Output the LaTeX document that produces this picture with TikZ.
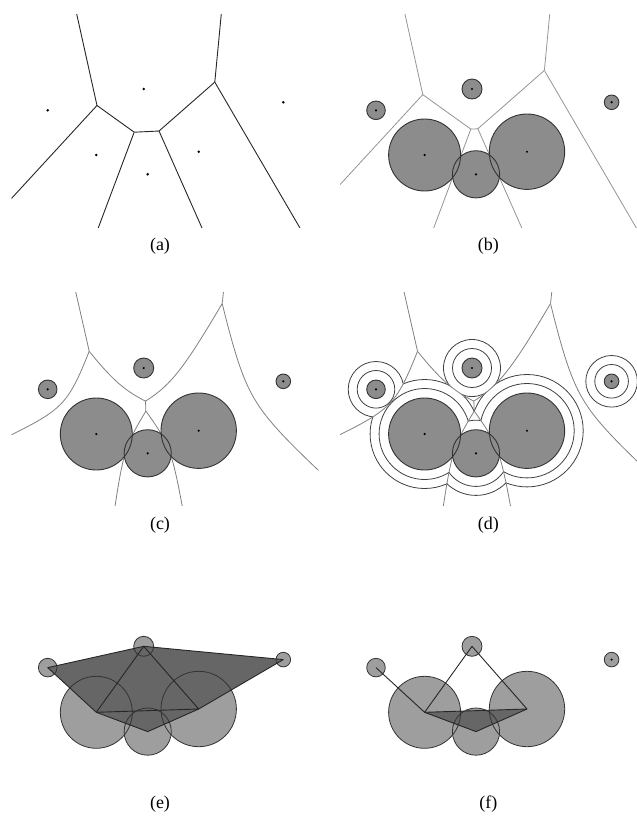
\documentclass[tikz,border=0pt]{standalone}
\usepackage{fontspec}
\setmainfont{Liberation Serif}

% ---------- sites (panel-local coordinates, y downwards) ----------
\newcommand\defsite[4]{%
  \expandafter\def\csname sitex#1\endcsname{#2}%
  \expandafter\def\csname sitey#1\endcsname{#3}%
  \expandafter\def\csname siter#1\endcsname{#4}}
\newcommand\SX[1]{\csname sitex#1\endcsname}
\newcommand\SY[1]{\csname sitey#1\endcsname}
\newcommand\SR[1]{\csname siter#1\endcsname}
\defsite{1}{47.7}{110.3}{9.3}
\defsite{2}{143.7}{89}{10}
\defsite{3}{283.3}{102.3}{7.3}
\defsite{4}{96.3}{155}{36}
\defsite{5}{147.7}{174.3}{23.6}
\defsite{6}{198.7}{151.7}{37.7}

% ---------- bisector of sites #1,#2 (mode 0 Voronoi, 1 power, 2 additive) ----------
\def\bmode{0}
\newcommand\bisect[2]{%
  \pgfmathsetmacro\bMx{(\SX{#1}+\SX{#2})/2}%
  \pgfmathsetmacro\bMy{(\SY{#1}+\SY{#2})/2}%
  \pgfmathsetmacro\bc{veclen(\SX{#2}-\SX{#1},\SY{#2}-\SY{#1})/2}%
  \pgfmathsetmacro\bux{(\SX{#2}-\SX{#1})/(2*\bc)}%
  \pgfmathsetmacro\buy{(\SY{#2}-\SY{#1})/(2*\bc)}%
  \ifcase\bmode\relax
    \def\bA{0}\def\bAo{0}\def\bB{100}\def\bsamp{2}%
  \or
    \def\bA{0}\pgfmathsetmacro\bAo{(\SR{#1}*\SR{#1}-\SR{#2}*\SR{#2})/(4*\bc)}\def\bB{100}\def\bsamp{2}%
  \or
    \def\bAo{0}\pgfmathsetmacro\bA{(\SR{#2}-\SR{#1})/2}%
    \pgfmathsetmacro\bB{sqrt(\bc*\bc-(\bA)*(\bA))}\def\bsamp{121}%
  \fi}
% clip to the side of the current bisector that holds the first site
\newcommand\halfclip{%
  \clip plot[domain=-4:4, samples=\bsamp, variable=\t]
    ({\bMx+((\bAo)-(\bA)*cosh(\t))*(\bux)-(\bB)*sinh(\t)*(\buy)},
     {\bMy+((\bAo)-(\bA)*cosh(\t))*(\buy)+(\bB)*sinh(\t)*(\bux)})
    -- ({\bMx-2000*(\bux)-2000*(\buy)},{\bMy-2000*(\buy)+2000*(\bux)})
    -- ({\bMx-2000*(\bux)+2000*(\buy)},{\bMy-2000*(\buy)-2000*(\bux)})
    -- cycle;}
\newcommand\bdraw[1]{%
  \draw[#1] plot[domain=-4:4, samples=\bsamp, variable=\t]
    ({\bMx+((\bAo)-(\bA)*cosh(\t))*(\bux)-(\bB)*sinh(\t)*(\buy)},
     {\bMy+((\bAo)-(\bA)*cosh(\t))*(\buy)+(\bB)*sinh(\t)*(\bux)});}
% the edge between cells #1 and #2
\newcommand\vedge[3]{%
  \begin{scope}
    \foreach \k in {1,...,6}{%
      \ifnum\k=#1\relax\else\ifnum\k=#2\relax\else
        \bisect{#1}{\k}\halfclip
      \fi\fi}%
    \bisect{#1}{#2}\bdraw{#3}%
  \end{scope}}
% offset circles of site #1 kept inside its own cell
\newcommand\rings[1]{%
  \begin{scope}
    \foreach \k in {1,...,6}{%
      \ifnum\k=#1\relax\else\bisect{#1}{\k}\halfclip\fi}%
    \pgfmathsetmacro\rra{\SR{#1}+9.5}%
    \pgfmathsetmacro\rrb{\SR{#1}+18.5}%
    \draw[ring] (\SX{#1},\SY{#1}) circle[radius=\rra];
    \draw[ring] (\SX{#1},\SY{#1}) circle[radius=\rrb];
  \end{scope}}
\newcommand\alledges[1]{%
  \foreach \p/\q in {1/2,1/4,2/4,2/5,2/6,2/3,3/6,4/5,4/6,5/6}{\vedge{\p}{\q}{#1}}}

\begin{document}
\begin{tikzpicture}[x=1pt,y=-1pt,
  vorline/.style={line width=0.9pt, draw=black!85},
  powline/.style={line width=0.8pt, draw=black!42},
  awline/.style={line width=0.8pt, draw=black!50},
  ring/.style={line width=0.8pt, draw=black!75},
  disk/.style={fill=black!45},
  diskline/.style={draw=black!80, line width=0.9pt},
  ldisk/.style={fill=black!38},
  ldiskline/.style={draw=black!80, line width=0.8pt},
  trifill/.style={fill=black!60},
  triline/.style={draw=black!85, line width=0.9pt, line join=round},
  dot/.style={fill=black},
  lab/.style={font=\fontsize{18}{20}\selectfont, inner sep=0pt}]
\useasboundingbox (0,0) rectangle (637,820);

% ================= (a) Voronoi diagram =================
\begin{scope}
  \def\bmode{0}
  \foreach \i in {1,...,6} \coordinate (a\i) at (\SX{\i},\SY{\i});
  \begin{scope}
    \clip (11.7,14) rectangle (318.3,227.7);
    \alledges{vorline}
  \end{scope}
  \foreach \i in {1,...,6} \fill[dot] (a\i) circle[radius=1.4];
  \node[lab] (la) at (160,246) {(a)};
\end{scope}

% ================= (b) power diagram =================
\begin{scope}[shift={(328.3,0)}]
  \def\bmode{1}
  \foreach \i in {1,...,6} \coordinate (b\i) at (\SX{\i},\SY{\i});
  \begin{scope}
    \clip (11.7,14) rectangle (318.3,227.7);
    \alledges{powline}
  \end{scope}
  \foreach \i in {1,...,6} \fill[disk] (b\i) circle[radius=\SR{\i}];
  \foreach \i in {1,...,6} \draw[diskline] (b\i) circle[radius=\SR{\i}];
  \foreach \i in {1,...,6} \fill[dot] (b\i) circle[radius=1.2];
  \node[lab] (lb) at (160,246) {(b)};
\end{scope}

% ================= (c) additively weighted diagram =================
\begin{scope}[shift={(0,279)}]
  \def\bmode{2}
  \foreach \i in {1,...,6} \coordinate (c\i) at (\SX{\i},\SY{\i});
  \begin{scope}
    \clip (11.7,13.7) rectangle (318.3,226);
    \alledges{awline}
  \end{scope}
  \foreach \i in {1,...,6} \fill[disk] (c\i) circle[radius=\SR{\i}];
  \foreach \i in {1,...,6} \draw[diskline] (c\i) circle[radius=\SR{\i}];
  \foreach \i in {1,...,6} \fill[dot] (c\i) circle[radius=1.2];
  \node[lab] (lc) at (160,246) {(c)};
\end{scope}

% ================= (d) growing circles =================
\begin{scope}[shift={(328.3,279)}]
  \def\bmode{2}
  \foreach \i in {1,...,6} \coordinate (d\i) at (\SX{\i},\SY{\i});
  \foreach \i in {1,...,6} {\rings{\i}}
  \begin{scope}
    \clip (11.7,13.7) rectangle (318.3,226);
    \alledges{awline}
  \end{scope}
  \foreach \i in {1,...,6} \fill[disk] (d\i) circle[radius=\SR{\i}];
  \foreach \i in {1,...,6} \draw[diskline] (d\i) circle[radius=\SR{\i}];
  \foreach \i in {1,...,6} \fill[dot] (d\i) circle[radius=1.2];
  \node[lab] (ld) at (160,246) {(d)};
\end{scope}

% ================= (e) full dual complex =================
\begin{scope}[shift={(0,557.3)}]
  \foreach \i in {1,...,6} \coordinate (e\i) at (\SX{\i},\SY{\i});
  \foreach \i in {1,...,6} \fill[ldisk] (e\i) circle[radius=\SR{\i}];
  \fill[trifill] (e1) -- (e2) -- (e3) -- (e6) -- (e5) -- (e4) -- cycle;
  \foreach \i in {1,...,6} \draw[ldiskline] (e\i) circle[radius=\SR{\i}];
  \draw[triline] (e1) -- (e2) -- (e3) -- (e6) -- (e5) -- (e4) -- cycle;
  \draw[triline] (e4) -- (e2) -- (e6) -- (e4);
  \node[lab] (le) at (160,247) {(e)};
\end{scope}

% ================= (f) sub-complex =================
\begin{scope}[shift={(328.3,557.3)}]
  \foreach \i in {1,...,6} \coordinate (f\i) at (\SX{\i},\SY{\i});
  \foreach \i in {1,...,6} \fill[ldisk] (f\i) circle[radius=\SR{\i}];
  \fill[trifill] (f4) -- (f5) -- (f6) -- cycle;
  \foreach \i in {1,...,6} \draw[ldiskline] (f\i) circle[radius=\SR{\i}];
  \draw[triline] (f1) -- (f4) -- (f2) -- (f6) -- (f4);
  \draw[triline] (f4) -- (f5) -- (f6);
  \fill[dot] (f3) circle[radius=1.2];
  \node[lab] (lf) at (160,247) {(f)};
\end{scope}
\end{tikzpicture}
\end{document}
